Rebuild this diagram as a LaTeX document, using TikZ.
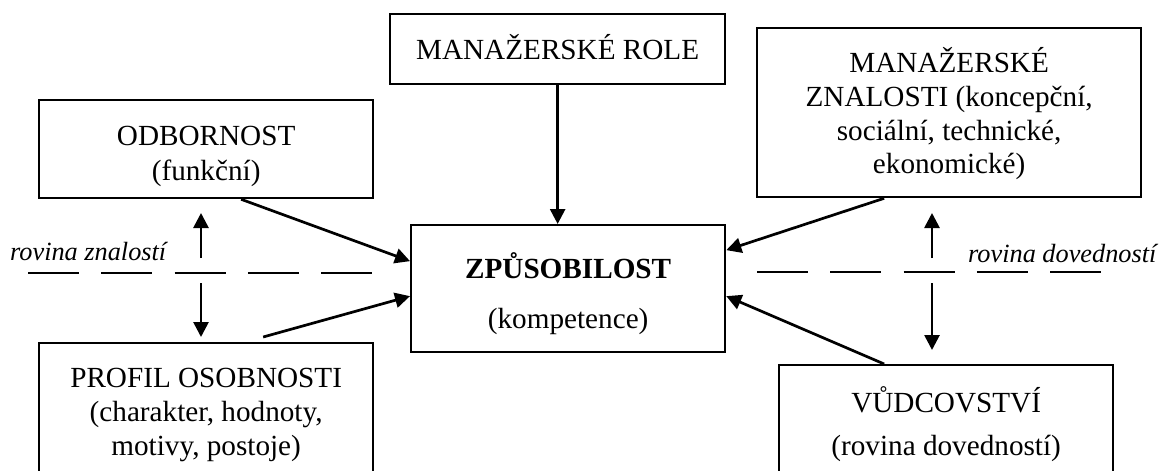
\documentclass[tikz,border=0pt]{standalone}
\usepackage{fontspec}
\setmainfont{Liberation Serif}
\usetikzlibrary{arrows.meta}
\begin{document}
\begin{tikzpicture}[x=1pt,y=-1pt,
  box/.style={draw, line width=2.3pt, inner sep=0pt, anchor=north west},
  txt/.style={anchor=base, inner sep=0pt, font=\fontsize{29.2}{34}\selectfont},
  lbl/.style={anchor=base west, inner sep=0pt, font=\fontsize{26.3}{30}\selectfont\itshape},
  link/.style={line width=2.7pt, -{Triangle[length=15pt,width=15pt]}},
  level/.style={line width=2.2pt, dash pattern=on 51pt off 22.25pt}]
\useasboundingbox (0,0) rectangle (1162,471);
\clip (0,0) rectangle (1162,471);

% boxes
\node[box, minimum width=334, minimum height=98]  (odb)  at (38,99)   {};
\node[box, minimum width=334, minimum height=150] (prof) at (38,342)  {};
\node[box, minimum width=335, minimum height=70]  (role) at (389,13)  {};
\node[box, minimum width=314, minimum height=127] (zp)   at (410,224) {};
\node[box, minimum width=384, minimum height=169] (zn)   at (756,27)  {};
\node[box, minimum width=334, minimum height=150] (vud)  at (778,364) {};

% box texts
\node[txt] (odb1) at ([yshift=-46]odb.north) {ODBORNOST};
\node[txt] (odb2) at ([yshift=-81]odb.north) {(funkční)};

\node[txt] (prof1) at ([yshift=-45]prof.north)  {PROFIL OSOBNOSTI};
\node[txt] (prof2) at ([yshift=-79]prof.north)  {(charakter, hodnoty,};
\node[txt] (prof3) at ([yshift=-113]prof.north) {motivy, postoje)};

\node[txt] (role1) at ([yshift=-46]role.north) {MANAŽERSKÉ ROLE};

\node[txt] (zp1) at ([yshift=-54]zp.north)  {\bfseries ZPŮSOBILOST};
\node[txt] (zp2) at ([yshift=-104]zp.north) {(kompetence)};

\node[txt] (zn1) at ([yshift=-45]zn.north)  {MANAŽERSKÉ};
\node[txt] (zn2) at ([yshift=-79]zn.north)  {ZNALOSTI (koncepční,};
\node[txt] (zn3) at ([yshift=-113]zn.north) {sociální, technické,};
\node[txt] (zn4) at ([yshift=-146]zn.north) {ekonomické)};

\node[txt] (vud1) at ([yshift=-48]vud.north) {VŮDCOVSTVÍ};
\node[txt] (vud2) at ([yshift=-91]vud.north) {(rovina dovedností)};

% level labels
\node[lbl] (lz) at (10,260)  {rovina znalostí};
\node[lbl] (ld) at (968,262) {rovina dovedností};

% dividing lines
\coordinate (dl1) at (28,273);
\coordinate (dl2) at (372,273);
\coordinate (dr1) at (757,272);
\coordinate (dr2) at (1112,272);
\draw[level] (dl1) -- (dl2);
\draw[level] (dr1) -- (dr2);

% arrows into the central box
\draw[link] (role.south) -- (role.south |- zp.north);
\draw[link] ([xshift=35]odb.south) -- ([yshift=27.5]zp.west);
\draw[link] ([xshift=57,yshift=5]prof.north) -- ([yshift=-7.5]zp.west);
\draw[link] ([xshift=-65]zn.south) -- ([yshift=38.5]zp.east);
\draw[link] ([xshift=-62]vud.north) -- ([yshift=-7.5]zp.east);

% arrows away from the dividing lines
\coordinate (lu0) at (201,258);
\coordinate (lu1) at (201,213);
\coordinate (ld0) at (201,283);
\coordinate (ld1) at (201,337);
\coordinate (ru0) at (932,258);
\coordinate (ru1) at (932,213);
\coordinate (rd0) at (932,283);
\coordinate (rd1) at (932,350);
\draw[link] (lu0) -- (lu1);
\draw[link] (ld0) -- (ld1);
\draw[link] (ru0) -- (ru1);
\draw[link] (rd0) -- (rd1);
\end{tikzpicture}
\end{document}
